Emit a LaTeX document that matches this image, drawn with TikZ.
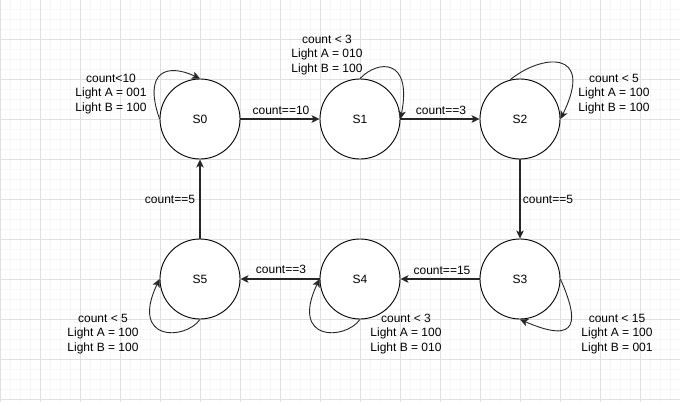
\documentclass[tikz,border=0pt]{standalone}
\usepackage{fontspec}
\setmainfont{Liberation Sans}
\usetikzlibrary{arrows.meta}
\begin{document}
\begin{tikzpicture}[x=1pt,y=-1pt,
  every node/.style={font=\fontsize{12}{14.5}\selectfont},
  state/.style={circle,draw=black,line width=0.9pt,fill=white,minimum size=80pt,inner sep=0pt},
  lbl/.style={align=center,inner sep=0pt},
  edge/.style={draw=black!85,line width=1.2pt,-{Stealth[length=8pt,width=7.5pt,inset=2pt]}},
  loopedge/.style={draw=black!85,line width=0.9pt,-{Stealth[length=8pt,width=7.5pt,inset=2pt]}},
  minorgrid/.style={draw=black!3,line width=0.5pt},
  majorgrid/.style={draw=black!12,line width=0.8pt}]
\useasboundingbox (0,0) rectangle (680,402);
\fill[white] (0,0) rectangle (680,402);
% grid
\foreach \x in {0,10,...,680} \draw[minorgrid] (\x,0) -- (\x,402);
\foreach \y in {9,19,...,399} \draw[minorgrid] (0,\y) -- (680,\y);
\foreach \x in {0,40,...,680} \draw[majorgrid] (\x,0) -- (\x,402);
\foreach \y in {39,79,...,399} \draw[majorgrid] (0,\y) -- (680,\y);
% states
\node[state] (s0) at (200,119) {S0};
\node[state] (s1) at (360,119) {S1};
\node[state] (s2) at (520,119) {S2};
\node[state] (s3) at (520,279) {S3};
\node[state] (s4) at (360,279) {S4};
\node[state] (s5) at (200,279) {S5};
% transitions
\draw[edge] (s0) -- (s1);
\draw[edge] (s1) -- (s2);
\draw[edge] (s2) -- (s3);
\draw[edge] (s3) -- (s4);
\draw[edge] (s4) -- (s5);
\draw[edge] (s5) -- (s0);
\node[lbl] (e01) at (281,110) {count==10};
\node[lbl] (e12) at (441,110) {count==3};
\node[lbl] (e23) at (548,199) {count==5};
\node[lbl] (e34) at (442,270) {count==15};
\node[lbl] (e45) at (281,269) {count==3};
\node[lbl] (e50) at (170,199) {count==5};
% self loops
\draw[loopedge] (s0.west) .. controls +(-17,-49) and +(-32,-15) .. (s0.north);
\draw[loopedge] (s1.north) .. controls +(18,-19) and +(12,-61) .. (s1.east);
\draw[loopedge] (s2.104) .. controls +(30,-25) and +(35,-71) .. (s2.east);
\draw[loopedge] (s3.east) .. controls +(18,41) and +(60,26) .. (s3.south);
\draw[loopedge] (s4.south) .. controls +(-15,21) and +(-30,63) .. (s4.west);
\draw[loopedge] (s5.south) .. controls +(-15,21) and +(-30,63) .. (s5.west);
% loop labels
\node[lbl] (l0) at (111,94) {count<10\\Light A = 001\\Light B = 100};
\node[lbl] (l1) at (327,55) {count < 3\\Light A = 010\\Light B = 100};
\node[lbl] (l2) at (614,94) {count < 5\\Light A = 100\\Light B = 100};
\node[lbl] (l3) at (617,334) {count < 15\\Light A = 100\\Light B = 001};
\node[lbl] (l4) at (406,334) {count < 3\\Light A = 100\\Light B = 010};
\node[lbl] (l5) at (103,334) {count < 5\\Light A = 100\\Light B = 100};
\end{tikzpicture}
\end{document}
